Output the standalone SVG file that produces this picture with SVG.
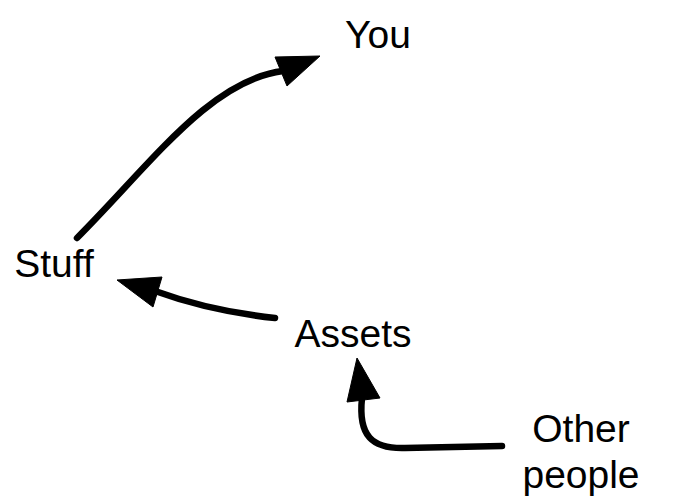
<svg xmlns="http://www.w3.org/2000/svg" width="677" height="503" viewBox="0 0 677 503">
  <style>
    .bg { fill: #ffffff; }
    .label { font-family: "Liberation Sans", Arial, Helvetica, sans-serif; font-size: 39px; fill: #000000; text-anchor: middle; }
    .edge { fill: none; stroke: #000000; stroke-width: 6.5; stroke-linecap: round; stroke-linejoin: round; }
    .head { fill: #000000; stroke: #000000; stroke-width: 1; stroke-linejoin: round; }
  </style>
  <rect class="bg" x="0" y="0" width="677" height="503"/>
  <g id="connectors">
    <g id="edge-stuff-you">
      <path class="edge" d="M77,238 C150,165 210,80 283,71"/>
      <polygon class="head" points="320,56 275,57 287,86"/>
    </g>
    <g id="edge-assets-stuff">
      <path class="edge" d="M275,318 Q210,311 155,291"/>
      <polygon class="head" points="117,280 162,277 153,307"/>
    </g>
    <g id="edge-other-assets">
      <path class="edge" d="M502,446 L405,448 C372,449 358,436 362,398"/>
      <polygon class="head" points="357,358 347,402 380,398"/>
    </g>
  </g>
  <g id="node-you">
    <text class="label" x="378" y="48">You</text>
  </g>
  <g id="node-stuff">
    <text class="label" x="54" y="277">Stuff</text>
  </g>
  <g id="node-assets">
    <text class="label" x="353" y="347">Assets</text>
  </g>
  <g id="node-other-people">
    <text class="label" x="581" y="442">Other</text>
    <text class="label" x="581" y="488">people</text>
  </g>
</svg>
